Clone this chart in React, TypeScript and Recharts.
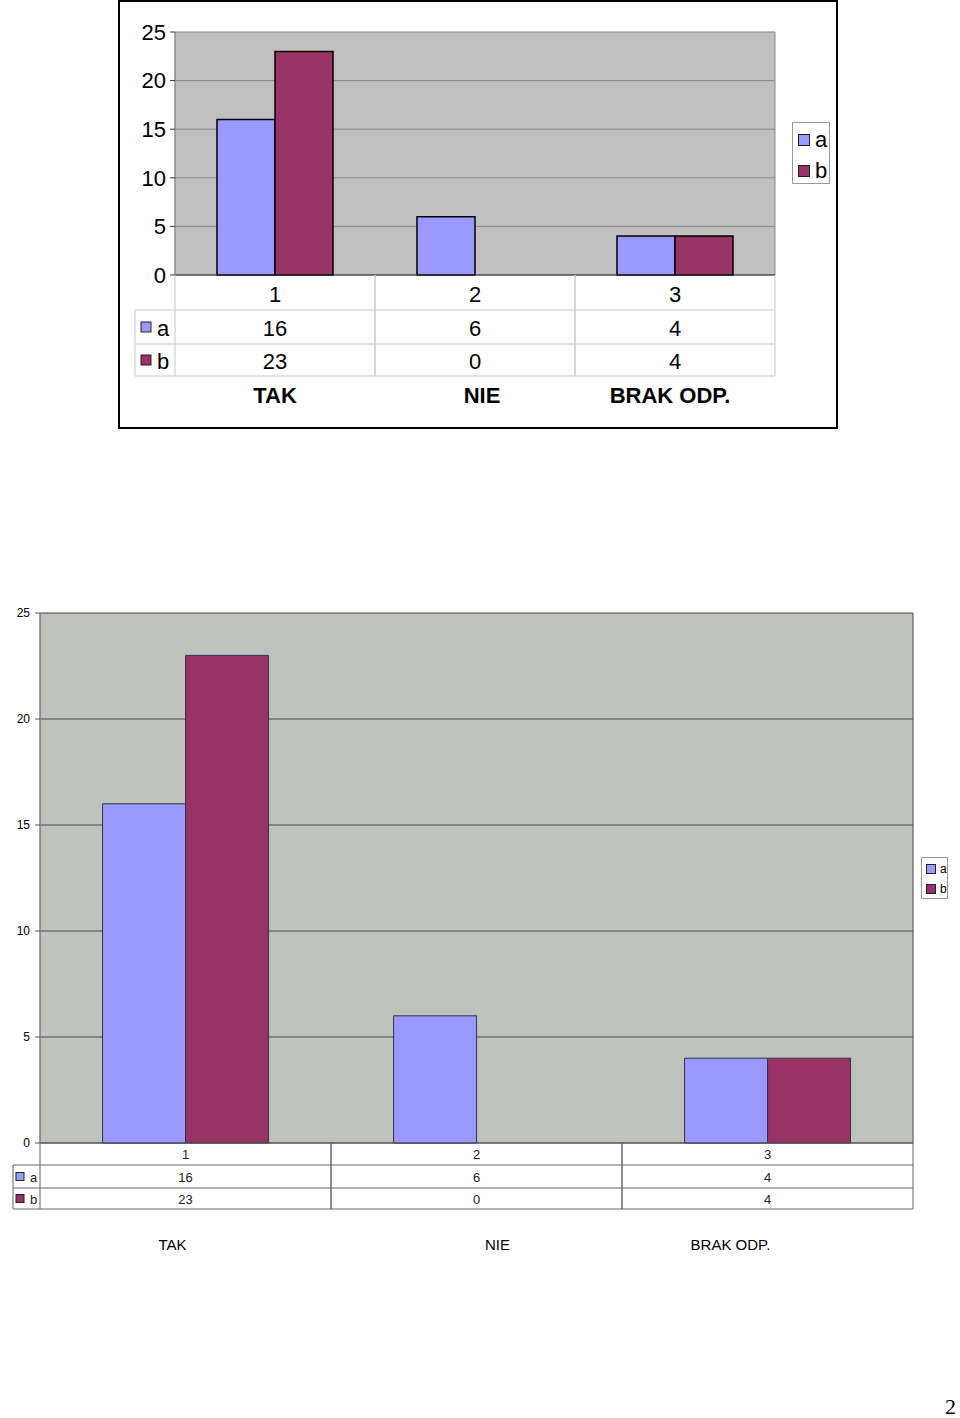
import React from 'react';
import { BarChart, Bar, XAxis, YAxis, CartesianGrid } from 'recharts';

const categories = ['1', '2', '3'];
const categoryLabels = ['TAK', 'NIE', 'BRAK ODP.'];
const seriesA = [16, 6, 4];
const seriesB = [23, 0, 4];
const seriesNames = ['a', 'b'];
const seriesColors = ['#9999ff', '#993366'];
const yTicks = [0, 5, 10, 15, 20, 25];

const data = categories.map((c, i) => ({
  cat: c,
  label: categoryLabels[i],
  a: seriesA[i],
  b: seriesB[i],
}));

type ChartStyle = {
  left: number;
  top: number;
  width: number;
  height: number;
  marginTop: number;
  marginRight: number;
  yAxisWidth: number;
  plotHeight: number;
  plotFill: string;
  gridStroke: string;
  borderStroke: string;
  axisStroke: string;
  barStroke: string;
  barStrokeWidth: number;
  barGap: string;
  tickFont: number;
  tickSize: number;
  tickMargin: number;
  tableFont: number;
  tableColor: string;
  tableLine: string;
  rowHeights: number[];
  textDy: number;
  leftColWidth: number;
  swatch: number;
  swatchX: number;
  letterX: number;
  labelFont: number;
  labelBold: boolean;
  labelY: number;
  labelDx: number[];
  legend: { left: number; top: number; width: number; height: number; font: number; swatch: number; rowGap: number; dy: number };
};

const topStyle: ChartStyle = {
  left: 118,
  top: 0,
  width: 720,
  height: 428,
  marginTop: 32,
  marginRight: 63,
  yAxisWidth: 57,
  plotHeight: 243,
  plotFill: '#c0c0c0',
  gridStroke: '#8a8a8a',
  borderStroke: '#8a8a8a',
  axisStroke: '#333333',
  barStroke: '#000000',
  barStrokeWidth: 1.5,
  barGap: '21%',
  tickFont: 22,
  tickSize: 5,
  tickMargin: 4,
  tableFont: 22,
  tableColor: '#000000',
  tableLine: '#c8c8c8',
  rowHeights: [35, 34, 32],
  textDy: 1.5,
  leftColWidth: 40,
  swatch: 10,
  swatchX: 6,
  letterX: 22,
  labelFont: 22,
  labelBold: true,
  labelY: 120,
  labelDx: [0, 7, -5],
  legend: { left: 792, top: 122, width: 38, height: 62, font: 22, swatch: 10, rowGap: 31, dy: 2 },
};

const bottomStyle: ChartStyle = {
  left: 0,
  top: 590,
  width: 960,
  height: 680,
  marginTop: 23,
  marginRight: 47,
  yAxisWidth: 40,
  plotHeight: 530,
  plotFill: '#bec2bb',
  gridStroke: '#4a4a4a',
  borderStroke: '#9a9a9a',
  axisStroke: '#555555',
  barStroke: '#333355',
  barStrokeWidth: 1,
  barGap: '21.5%',
  tickFont: 12,
  tickSize: 5,
  tickMargin: 5,
  tableFont: 13,
  tableColor: '#222222',
  tableLine: '#666666',
  rowHeights: [22, 23, 21],
  textDy: 0.5,
  leftColWidth: 27,
  swatch: 8,
  swatchX: 3,
  letterX: 17,
  labelFont: 15,
  labelBold: false,
  labelY: 101,
  labelDx: [-13, 21, -37],
  legend: { left: 921, top: 857, width: 27, height: 42, font: 12, swatch: 8, rowGap: 20, dy: 1 },
};

function makeTableTick(st: ChartStyle) {
  const plotWidth = st.width - st.yAxisWidth - st.marginRight;
  return (props: any) => {
    const { x, y, payload, index } = props;
    const half = typeof payload?.offset === 'number' && payload.offset > 0 ? payload.offset : plotWidth / data.length / 2;
    const i = typeof index === 'number' ? index : payload.index;
    const [h0, h1, h2] = st.rowHeights;
    const r1 = y + h0;
    const r2 = r1 + h1;
    const bot = r2 + h2;
    const xl = x - half;
    const xr = x + half;
    const ff = 'Arial, "Liberation Sans", sans-serif';
    const rows = [
      { cy: y + h0 / 2, text: categories[i] },
      { cy: r1 + h1 / 2, text: String(seriesA[i]) },
      { cy: r2 + h2 / 2, text: String(seriesB[i]) },
    ];
    return (
      <g>
        <line x1={xl} y1={y} x2={xl} y2={bot} stroke={st.tableLine} />
        <line x1={xr} y1={y} x2={xr} y2={bot} stroke={st.tableLine} />
        <line x1={xl} y1={r1} x2={xr} y2={r1} stroke={st.tableLine} />
        <line x1={xl} y1={r2} x2={xr} y2={r2} stroke={st.tableLine} />
        <line x1={xl} y1={bot} x2={xr} y2={bot} stroke={st.tableLine} />
        {rows.map((r, k) => (
          <text
            key={k}
            x={x}
            y={r.cy + st.textDy}
            textAnchor="middle"
            dominantBaseline="central"
            fontFamily={ff}
            fontSize={st.tableFont}
            fill={st.tableColor}
          >
            {r.text}
          </text>
        ))}
        {i === 0 && (
          <g>
            <line x1={xl - st.leftColWidth} y1={r1} x2={xl} y2={r1} stroke={st.tableLine} />
            <line x1={xl - st.leftColWidth} y1={r2} x2={xl} y2={r2} stroke={st.tableLine} />
            <line x1={xl - st.leftColWidth} y1={bot} x2={xl} y2={bot} stroke={st.tableLine} />
            <line x1={xl - st.leftColWidth} y1={r1} x2={xl - st.leftColWidth} y2={bot} stroke={st.tableLine} />
            {seriesNames.map((n, k) => {
              const cy = k === 0 ? r1 + h1 / 2 : r2 + h2 / 2;
              return (
                <g key={n}>
                  <rect
                    x={xl - st.leftColWidth + st.swatchX}
                    y={cy - st.swatch / 2}
                    width={st.swatch}
                    height={st.swatch}
                    fill={seriesColors[k]}
                    stroke="#222"
                    strokeWidth={1}
                  />
                  <text
                    x={xl - st.leftColWidth + st.letterX}
                    y={cy + st.textDy}
                    dominantBaseline="central"
                    fontFamily={ff}
                    fontSize={st.tableFont}
                    fill={st.tableColor}
                  >
                    {n}
                  </text>
                </g>
              );
            })}
          </g>
        )}
        <text
          x={x + st.labelDx[i]}
          y={y + st.labelY}
          textAnchor="middle"
          dominantBaseline="central"
          fontFamily={ff}
          fontSize={st.labelFont}
          fontWeight={st.labelBold ? 'bold' : 'normal'}
          fill="#000"
        >
          {categoryLabels[i]}
        </text>
      </g>
    );
  };
}

function Legend({ st }: { st: ChartStyle }) {
  const lg = st.legend;
  return (
    <div
      style={{
        position: 'absolute',
        left: lg.left,
        top: lg.top,
        width: lg.width,
        height: lg.height,
        border: '1px solid #9a9a9a',
        boxSizing: 'border-box',
        background: '#fff',
        fontFamily: 'Arial, "Liberation Sans", sans-serif',
      }}
    >
      {seriesNames.map((n, k) => (
        <div
          key={n}
          style={{
            position: 'absolute',
            left: 0,
            top: lg.height / 2 - lg.rowGap / 2 + (k === 0 ? 0 : lg.rowGap) - lg.font / 2 - 1 + lg.dy,
            height: lg.font,
            display: 'flex',
            alignItems: 'center',
            fontSize: lg.font,
            lineHeight: `${lg.font}px`,
          }}
        >
          <span
            style={{
              display: 'inline-block',
              width: lg.swatch,
              height: lg.swatch,
              background: seriesColors[k],
              border: '1px solid #222',
              marginLeft: lg.swatch * 0.5,
              marginRight: lg.swatch * 0.5,
            }}
          />
          <span>{n}</span>
        </div>
      ))}
    </div>
  );
}

function TableChart({ st }: { st: ChartStyle }) {
  const xAxisHeight = st.height - st.marginTop - st.plotHeight;
  return (
    <div style={{ position: 'absolute', left: st.left, top: st.top, width: st.width, height: st.height }}>
      <BarChart
        width={st.width}
        height={st.height}
        data={data}
        margin={{ top: st.marginTop, right: st.marginRight, bottom: 0, left: 0 }}
        barCategoryGap={st.barGap}
        barGap={0}
      >
        <CartesianGrid
          fill={st.plotFill}
          stroke={st.gridStroke}
          vertical={true}
          horizontal={true}
          verticalCoordinatesGenerator={(p: any) => [p.offset.left, p.offset.left + p.offset.width]}
        />
        <XAxis
          dataKey="cat"
          height={xAxisHeight}
          tickSize={0}
          tickMargin={0}
          interval={0}
          axisLine={{ stroke: st.axisStroke }}
          tickLine={false}
          tick={makeTableTick(st)}
        />
        <YAxis
          width={st.yAxisWidth}
          domain={[0, 25]}
          ticks={yTicks}
          interval={0}
          tickSize={st.tickSize}
          tickMargin={st.tickMargin}
          axisLine={{ stroke: st.borderStroke }}
          tickLine={{ stroke: st.axisStroke }}
          tick={{ fontSize: st.tickFont, fill: '#000', fontFamily: 'Arial, "Liberation Sans", sans-serif' }}
        />
        <Bar dataKey="a" name="a" fill={seriesColors[0]} stroke={st.barStroke} strokeWidth={st.barStrokeWidth} isAnimationActive={false} />
        <Bar dataKey="b" name="b" fill={seriesColors[1]} stroke={st.barStroke} strokeWidth={st.barStrokeWidth} isAnimationActive={false} />
      </BarChart>
    </div>
  );
}

export default function App() {
  return (
    <div style={{ position: 'absolute', left: 0, top: 0, width: 960, height: 1418, background: '#fff', overflow: 'hidden' }}>
      <div
        style={{
          position: 'absolute',
          left: 118,
          top: 0,
          width: 720,
          height: 429,
          border: '2px solid #000',
          boxSizing: 'border-box',
        }}
      />
      <TableChart st={topStyle} />
      <Legend st={topStyle} />
      <TableChart st={bottomStyle} />
      <Legend st={bottomStyle} />
      <div
        style={{
          position: 'absolute',
          left: 945,
          top: 1395,
          fontFamily: '"Liberation Serif", "DejaVu Serif", serif',
          fontSize: 22,
          lineHeight: '24px',
        }}
      >
        2
      </div>
    </div>
  );
}
